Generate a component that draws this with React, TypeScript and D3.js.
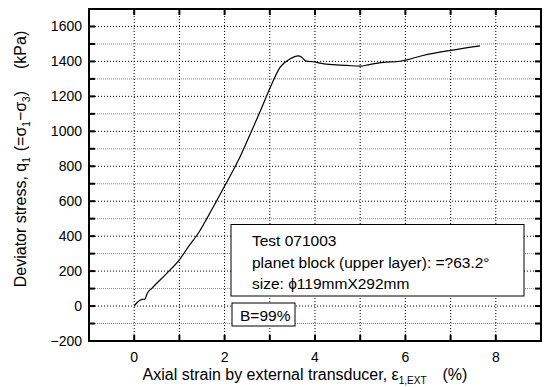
import React from 'react';
import * as d3 from 'd3';

// axial strain (%) and deviator stress (kPa)
const strain = [0, 0.06, 0.17, 0.24, 0.28, 0.39, 0.72, 1.02, 1.16, 1.46, 1.61, 2.01, 2.34, 2.56, 2.78, 3.0, 3.23, 3.45, 3.63, 3.7, 3.8, 4.0, 4.11, 4.2, 4.55, 4.7, 5.0, 5.2, 5.51, 5.88, 6.39, 7.0, 7.65];
const stress = [0, 19, 38, 40, 68, 101, 187, 272, 325, 434, 502, 691, 853, 980, 1110, 1245, 1367, 1415, 1432, 1425, 1402, 1397, 1390, 1386, 1379, 1377, 1373, 1382, 1394, 1401, 1434, 1463, 1489];

const xTicks = [0, 2, 4, 6, 8];
const yTicks = [-200, 0, 200, 400, 600, 800, 1000, 1200, 1400, 1600];
const xGrid = [0, 1, 2, 3, 4, 5, 6, 7, 8];
const yMinor = [-100, 100, 300, 500, 700, 900, 1100, 1300, 1500, 1700];

const W = 544;
const H = 387;
const margin = { left: 89, right: 3, top: 9, bottom: 46 };
const FONT = '"Liberation Sans", Arial, sans-serif';

export default function App() {
  const x = d3.scaleLinear().domain([-1, 9]).range([margin.left, W - margin.right]);
  const y = d3.scaleLinear().domain([-200, 1700]).range([H - margin.bottom, margin.top]);
  const pts = strain.map((s, i) => [s, stress[i]] as [number, number]);
  const line = d3.line<[number, number]>().x(d => x(d[0])).y(d => y(d[1])).curve(d3.curveMonotoneX);

  const x0 = x.range()[0], x1 = x.range()[1];
  const y0 = y.range()[0], y1 = y.range()[1];
  const tickLen = 6;
  const allY = yTicks.concat(yMinor).filter(v => v > -200 && v < 1700);

  return (
    <svg width={W} height={H} style={{ position: 'absolute', left: 0, top: 0, background: '#fff' }} fontFamily={FONT}>
      {/* minor horizontal grid */}
      {yMinor.filter(v => v < 1700).map(v => (
        <line key={'ym' + v} x1={x0} x2={x1} y1={y(v)} y2={y(v)} stroke="#888" strokeWidth={1} strokeDasharray="1,1" />
      ))}
      {yTicks.filter(v => v > -200).map(v => (
        <line key={'yg' + v} x1={x0} x2={x1} y1={y(v)} y2={y(v)} stroke="#000" strokeWidth={1} strokeDasharray="1,2" />
      ))}
      {xGrid.map(v => (
        <line key={'xg' + v} x1={x(v)} x2={x(v)} y1={y0} y2={y1} stroke="#000" strokeWidth={1} strokeDasharray="1,2" />
      ))}

      {/* ticks, inward on all four sides */}
      {xGrid.map(v => (
        <g key={'xt' + v}>
          <line x1={x(v)} x2={x(v)} y1={y0} y2={y0 - tickLen} stroke="#000" strokeWidth={2} />
          <line x1={x(v)} x2={x(v)} y1={y1} y2={y1 + tickLen} stroke="#000" strokeWidth={2} />
        </g>
      ))}
      {allY.map(v => (
        <g key={'yt' + v}>
          <line x1={x0} x2={x0 + tickLen} y1={y(v)} y2={y(v)} stroke="#000" strokeWidth={2} />
          <line x1={x1} x2={x1 - tickLen} y1={y(v)} y2={y(v)} stroke="#000" strokeWidth={2} />
        </g>
      ))}

      {/* curve */}
      <path d={line(pts) || ''} fill="none" stroke="#000" strokeWidth={1.2} />

      {/* frame */}
      <rect x={x0} y={y1} width={x1 - x0} height={y0 - y1} fill="none" stroke="#000" strokeWidth={2} />

      {/* tick labels */}
      {xTicks.map(v => (
        <text key={'xl' + v} x={x(v)} y={y0 + 21} textAnchor="middle" fontSize={14}>{v}</text>
      ))}
      {yTicks.map(v => (
        <text key={'yl' + v} x={x0 - 7} y={y(v) + 5} textAnchor="end" fontSize={14}>{v < 0 ? '\u2212' + Math.abs(v) : v}</text>
      ))}

      {/* axis titles */}
      <text x={305} y={380} textAnchor="middle" fontSize={16}>
        Axial strain by external transducer, ε
        <tspan fontSize={10} dy={4}>1,EXT</tspan>
        <tspan dy={-4} dx={16}>(%)</tspan>
      </text>
      <text transform={`translate(26, ${159}) rotate(-90)`} textAnchor="middle" fontSize={16}>
        Deviator stress, q
        <tspan fontSize={10} dy={4}>1</tspan>
        <tspan dy={-4} dx={6}>(=σ</tspan>
        <tspan fontSize={10} dy={4}>1</tspan>
        <tspan dy={-4}>−σ</tspan>
        <tspan fontSize={10} dy={4}>3</tspan>
        <tspan dy={-4}>)</tspan>
        <tspan dx={22}>(kPa)</tspan>
      </text>

      {/* annotation boxes */}
      <rect x={231} y={224.5} width={293} height={71.5} fill="#fff" stroke="#000" strokeWidth={1} />
      <text x={252} y={246} fontSize={15.5}>Test 071003</text>
      <text x={252} y={268} fontSize={15.5}>planet block (upper layer): =?63.2°</text>
      <text x={252} y={289} fontSize={15.5}>size: ϕ119mmX292mm</text>
      <rect x={232} y={303} width={63} height={23} fill="#fff" stroke="#000" strokeWidth={1} />
      <text x={240} y={321} fontSize={15.5}>B=99%</text>
    </svg>
  );
}
